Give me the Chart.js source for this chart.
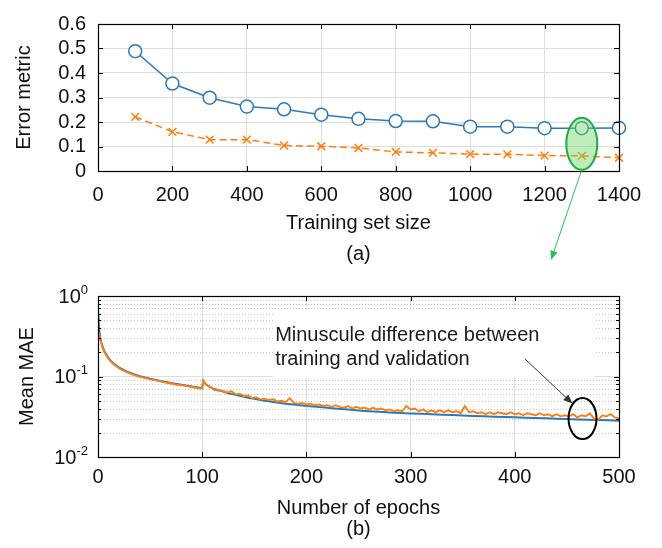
<!DOCTYPE html>
<html>
<head>
<meta charset="utf-8">
<script src="https://cdn.jsdelivr.net/npm/chart.js@4.4.1/dist/chart.umd.min.js"></script>
<style>
  html, body { margin: 0; padding: 0; background: #fff; }
  #wrap { position: relative; width: 662px; height: 548px; }
  canvas { position: absolute; left: 0; }
  #top { top: 0; }
  #bottom { top: 270px; }
</style>
</head>
<body>
<div id="wrap">
  <canvas id="top" width="662" height="270"></canvas>
  <canvas id="bottom" width="662" height="278"></canvas>
</div>
<script>
'use strict';

// ── (a) error metric vs training set size ─────────────────────────────────
const sizes = [100, 200, 300, 400, 500, 600, 700, 800, 900, 1000, 1100, 1200, 1300, 1400];
const errCircle = [0.489, 0.357, 0.299, 0.263, 0.252, 0.230, 0.213, 0.204, 0.203, 0.181, 0.181, 0.175, 0.175, 0.176];
const errCross = [0.221, 0.160, 0.128, 0.128, 0.104, 0.101, 0.094, 0.078, 0.074, 0.069, 0.068, 0.063, 0.062, 0.054];
const sizeTicks = [0, 200, 400, 600, 800, 1000, 1200, 1400];
const errorTicks = [0, 0.1, 0.2, 0.3, 0.4, 0.5, 0.6];
const highlightSize = 1300;

// ── (b) mean MAE per epoch ────────────────────────────────────────────────
const trainEpochs = [0, 1, 2, 3, 4, 5, 6, 8, 10, 12, 15, 20, 25, 30, 35, 40, 45, 50, 60, 70, 80, 90, 99,
  100, 101, 103, 106, 110, 115, 120, 125, 130, 135, 140, 145, 150, 160, 170, 180, 190, 200,
  210, 220, 230, 240, 250, 260, 270, 280, 290, 300, 310, 320, 330, 340, 350, 360, 370, 380,
  390, 400, 410, 420, 430, 440, 450, 460, 470, 480, 490, 500];
const trainMae = [0.72, 0.40, 0.31, 0.27, 0.245, 0.225, 0.208, 0.187, 0.170, 0.158, 0.145, 0.130, 0.120,
  0.112, 0.106, 0.101, 0.097, 0.094, 0.088, 0.083, 0.079, 0.075, 0.072,
  0.073, 0.088, 0.081, 0.076, 0.071, 0.068, 0.065, 0.062, 0.060, 0.058, 0.056, 0.054, 0.053,
  0.050, 0.048, 0.046, 0.0445, 0.043, 0.042, 0.041, 0.0398, 0.0388, 0.0378, 0.0371, 0.0364,
  0.0358, 0.0352, 0.0348, 0.0344, 0.0340, 0.0336, 0.0332, 0.0328, 0.0324, 0.0320, 0.0317,
  0.0314, 0.0311, 0.0308, 0.0305, 0.0302, 0.0299, 0.0296, 0.0293, 0.0290, 0.0288, 0.0286, 0.0283];

const valEpochs = [0, 1, 2, 3, 4, 5, 6, 8, 10, 12, 15, 20, 25, 30, 35, 40, 45, 50, 55, 60, 65, 70, 75, 80,
  85, 90, 95, 99, 100, 101, 102,
  104, 108, 112, 116, 120, 124, 128, 132, 136, 140, 144, 148, 152, 156, 160, 164, 168, 172, 176, 180,
  184, 188, 192, 196, 200, 204, 208, 212, 216, 220, 224, 228, 232, 236, 240, 244, 248, 252, 256, 260,
  264, 268, 272, 276, 280, 284, 288, 292, 296, 300, 304, 308, 312, 316, 320, 324, 328, 332, 336, 340,
  344, 348, 352, 356, 360, 364, 368, 372, 376, 380, 384, 388, 392, 396, 400, 404, 408, 412, 416, 420,
  424, 428, 432, 436, 440, 444, 448, 452, 456, 460, 464, 468, 472, 476, 480, 484, 488, 492, 496, 500];
const valMae = [0.36, 0.33, 0.29, 0.26, 0.237, 0.217, 0.202, 0.182, 0.166, 0.155, 0.142, 0.127, 0.117,
  0.110, 0.104, 0.099, 0.096, 0.092, 0.090, 0.087, 0.084, 0.082, 0.079, 0.078, 0.076, 0.074, 0.072,
  0.071, 0.071, 0.089, 0.084,
  0.079, 0.074, 0.068, 0.067, 0.066, 0.063, 0.066, 0.060, 0.061, 0.057, 0.058, 0.054, 0.055, 0.052,
  0.053, 0.051, 0.052, 0.049, 0.050, 0.048, 0.054, 0.047, 0.046, 0.047, 0.045, 0.046, 0.044, 0.045,
  0.043, 0.044, 0.042, 0.044, 0.042, 0.041, 0.043, 0.040, 0.042, 0.040, 0.041, 0.039, 0.041, 0.039,
  0.040, 0.038, 0.039, 0.037, 0.038, 0.037, 0.043, 0.039, 0.040, 0.037, 0.039, 0.036, 0.038, 0.036,
  0.038, 0.036, 0.038, 0.036, 0.037, 0.035, 0.043, 0.036, 0.037, 0.035, 0.036, 0.034, 0.036, 0.034,
  0.036, 0.035, 0.034, 0.036, 0.034, 0.035, 0.033, 0.035, 0.034, 0.033, 0.035, 0.033, 0.034, 0.032,
  0.034, 0.032, 0.033, 0.032, 0.034, 0.031, 0.033, 0.032, 0.035, 0.030, 0.029, 0.033, 0.032, 0.034,
  0.031, 0.030];
const epochTicks = [0, 100, 200, 300, 400, 500];
const maeDecades = [0.01, 0.1, 1];
const maeTicks = [0.01, 0.02, 0.03, 0.04, 0.05, 0.06, 0.07, 0.08, 0.09,
  0.1, 0.2, 0.3, 0.4, 0.5, 0.6, 0.7, 0.8, 0.9, 1];
const noteLines = ['Minuscule difference between', 'training and validation'];
const noteEpoch = 465;
const noteMae = 0.030;

// ── shared style ──────────────────────────────────────────────────────────
const FONT = "'Liberation Sans', Arial, sans-serif";
const BLUE = '#2a7ab9';
const ORANGE = '#ff7f0e';
const GRID = '#dedede';
const INK = '#111';

function pairs(xs, ys) {
  return xs.map((x, i) => ({ x: x, y: ys[i] }));
}

function isDecade(v) {
  const l = Math.log10(v);
  return Math.abs(l - Math.round(l)) < 1e-6;
}

function arrow(ctx, x1, y1, x2, y2, color, width, head) {
  const a = Math.atan2(y2 - y1, x2 - x1);
  ctx.save();
  ctx.strokeStyle = color;
  ctx.fillStyle = color;
  ctx.lineWidth = width;
  ctx.beginPath();
  ctx.moveTo(x1, y1);
  ctx.lineTo(x2 - Math.cos(a) * head * 0.8, y2 - Math.sin(a) * head * 0.8);
  ctx.stroke();
  ctx.beginPath();
  ctx.moveTo(x2, y2);
  ctx.lineTo(x2 - head * Math.cos(a - 0.38), y2 - head * Math.sin(a - 0.38));
  ctx.lineTo(x2 - head * Math.cos(a + 0.38), y2 - head * Math.sin(a + 0.38));
  ctx.closePath();
  ctx.fill();
  ctx.restore();
}

// box round the plot area with ticks pointing inwards, like MATLAB axes
function drawFrame(chart, minorLen) {
  const { ctx, chartArea: a, scales } = chart;
  ctx.save();
  ctx.strokeStyle = '#000';
  ctx.lineWidth = 1;
  ctx.beginPath();
  scales.x.ticks.forEach(t => {
    const px = Math.round(scales.x.getPixelForValue(t.value)) + 0.5;
    ctx.moveTo(px, a.bottom); ctx.lineTo(px, a.bottom - 5);
    ctx.moveTo(px, a.top); ctx.lineTo(px, a.top + 5);
  });
  scales.y.ticks.forEach(t => {
    const len = (minorLen && !isDecade(t.value)) ? minorLen : 5;
    const py = Math.round(scales.y.getPixelForValue(t.value)) + 0.5;
    ctx.moveTo(a.left, py); ctx.lineTo(a.left + len, py);
    ctx.moveTo(a.right, py); ctx.lineTo(a.right - len, py);
  });
  ctx.stroke();
  ctx.lineWidth = 1.2;
  ctx.strokeRect(Math.round(a.left) + 0.5, Math.round(a.top) + 0.5,
    Math.round(a.right - a.left), Math.round(a.bottom - a.top));
  ctx.restore();
}

const tickFont = { family: FONT, size: 20 };

// ── chart (a) ─────────────────────────────────────────────────────────────
const topDecor = {
  id: 'topDecor',
  afterDatasetsDraw(chart) {
    drawFrame(chart);
    const { ctx, scales } = chart;
    const cx = scales.x.getPixelForValue(highlightSize);
    const cy = scales.y.getPixelForValue(0.111);
    ctx.save();
    ctx.beginPath();
    ctx.ellipse(cx, cy, 15.5, 26, 0, 0, Math.PI * 2);
    ctx.fillStyle = 'rgba(110, 215, 100, 0.45)';
    ctx.fill();
    ctx.strokeStyle = '#1faa48';
    ctx.lineWidth = 2;
    ctx.stroke();
    ctx.restore();
    arrow(ctx, cx, cy + 26, 551, 260, '#2bbf5c', 1, 10);
  }
};

new Chart(document.getElementById('top'), {
  type: 'line',
  data: {
    datasets: [
      {
        data: pairs(sizes, errCircle),
        borderColor: BLUE,
        borderWidth: 1.5,
        pointStyle: 'circle',
        pointRadius: 6.5,
        pointBorderWidth: 1.5,
        pointBackgroundColor: '#fff',
        pointBorderColor: BLUE,
        clip: false,
      },
      {
        data: pairs(sizes, errCross),
        borderColor: ORANGE,
        borderWidth: 1.5,
        borderDash: [7, 4],
        pointStyle: 'crossRot',
        pointRadius: 5.5,
        pointBorderWidth: 1.5,
        pointBorderColor: ORANGE,
        clip: false,
      },
    ],
  },
  options: {
    responsive: false,
    animation: false,
    events: [],
    layout: { padding: { left: 0, right: 43, top: 13, bottom: 0 } },
    plugins: { legend: { display: false }, tooltip: { enabled: false } },
    scales: {
      x: {
        type: 'linear', min: 0, max: 1400,
        afterBuildTicks: s => { s.ticks = sizeTicks.map(v => ({ value: v })); },
        afterFit: s => { s.height = 99; },
        grid: { color: GRID, drawTicks: false },
        border: { display: false },
        ticks: { font: tickFont, color: INK, padding: 12, autoSkip: false, maxRotation: 0,
          callback: v => String(v) },
        title: { display: true, text: ['Training set size', '(a)'], color: INK,
          font: { family: FONT, size: 20, lineHeight: 1.55 }, padding: { top: 0, bottom: 0 } },
      },
      y: {
        min: 0, max: 0.6,
        afterBuildTicks: s => { s.ticks = errorTicks.map(v => ({ value: v })); },
        afterFit: s => { s.width = 98; },
        grid: { color: GRID, drawTicks: false },
        border: { display: false },
        ticks: { font: tickFont, color: INK, padding: 12, autoSkip: false,
          callback: v => (v === 0 ? '0' : v.toFixed(1)) },
        title: { display: true, text: 'Error metric', color: INK,
          font: { family: FONT, size: 20 }, padding: { top: 12, bottom: 0 } },
      },
    },
  },
  plugins: [topDecor],
});

// ── chart (b) ─────────────────────────────────────────────────────────────
const bottomDecor = {
  id: 'bottomDecor',
  beforeDatasetsDraw(chart) {
    const { ctx, chartArea: a, scales } = chart;
    ctx.save();
    // dotted minor grid
    ctx.strokeStyle = '#c4c4c4';
    ctx.lineWidth = 1;
    ctx.setLineDash([1, 2]);
    ctx.beginPath();
    maeTicks.filter(v => !isDecade(v)).forEach(v => {
      const py = Math.round(scales.y.getPixelForValue(v)) + 0.5;
      ctx.moveTo(a.left, py); ctx.lineTo(a.right, py);
    });
    ctx.stroke();
    ctx.setLineDash([]);
    // white backing of the note
    const x0 = scales.x.getPixelForValue(168);
    const x1 = scales.x.getPixelForValue(476);
    const y0 = scales.y.getPixelForValue(0.67);
    const y1 = scales.y.getPixelForValue(0.096);
    ctx.fillStyle = '#fff';
    ctx.fillRect(x0, y0, x1 - x0, y1 - y0);
    ctx.restore();
  },
  afterDatasetsDraw(chart) {
    drawFrame(chart, 3);
    const { ctx, scales } = chart;
    ctx.save();
    // decade labels with superscript exponents
    ctx.fillStyle = INK;
    ctx.textAlign = 'right';
    ctx.textBaseline = 'middle';
    maeDecades.forEach(v => {
      const py = scales.y.getPixelForValue(v);
      const exp = String(Math.round(Math.log10(v)));
      ctx.font = '13px ' + FONT;
      const ew = ctx.measureText(exp).width;
      ctx.fillText(exp, 88, py - 6);
      ctx.font = '20px ' + FONT;
      ctx.fillText('10', 88 - ew, py + 1);
    });
    // note text
    const tx = scales.x.getPixelForValue(170);
    ctx.textAlign = 'left';
    ctx.textBaseline = 'alphabetic';
    ctx.font = '20px ' + FONT;
    ctx.fillStyle = '#1a1a1a';
    noteLines.forEach((line, i) => ctx.fillText(line, tx, 71 + i * 24));
    // ellipse round the tail
    const ex = scales.x.getPixelForValue(noteEpoch);
    const ey = scales.y.getPixelForValue(noteMae);
    ctx.beginPath();
    ctx.ellipse(ex, ey, 14, 20.5, 0, 0, Math.PI * 2);
    ctx.strokeStyle = '#000';
    ctx.lineWidth = 2;
    ctx.stroke();
    ctx.restore();
    arrow(ctx, 525, 89, ex - 10, ey - 15, '#333', 1, 10);
  }
};

new Chart(document.getElementById('bottom'), {
  type: 'line',
  data: {
    datasets: [
      {
        data: pairs(trainEpochs, trainMae),
        borderColor: BLUE,
        borderWidth: 2,
        pointRadius: 0,
        tension: 0,
        order: 2,
      },
      {
        data: pairs(valEpochs, valMae),
        borderColor: ORANGE,
        borderWidth: 1.9,
        pointRadius: 0,
        tension: 0,
        order: 1,
      },
    ],
  },
  options: {
    responsive: false,
    animation: false,
    events: [],
    layout: { padding: { left: 0, right: 43, top: 26, bottom: 0 } },
    plugins: { legend: { display: false }, tooltip: { enabled: false } },
    scales: {
      x: {
        type: 'linear', min: 0, max: 500,
        afterBuildTicks: s => { s.ticks = epochTicks.map(v => ({ value: v })); },
        afterFit: s => { s.height = 91; },
        grid: { color: GRID, drawTicks: false },
        border: { display: false },
        ticks: { font: tickFont, color: INK, padding: 8, autoSkip: false, maxRotation: 0,
          callback: v => String(v) },
        title: { display: true, text: ['Number of epochs', '(b)'], color: INK,
          font: { family: FONT, size: 20, lineHeight: 1.05 }, padding: { top: 0, bottom: 8 } },
      },
      y: {
        type: 'logarithmic', min: 0.01, max: 1,
        afterBuildTicks: s => { s.ticks = maeTicks.map(v => ({ value: v })); },
        afterFit: s => { s.width = 98; },
        grid: { color: c => (c.tick && isDecade(c.tick.value) ? GRID : 'rgba(0,0,0,0)'), drawTicks: false },
        border: { display: false },
        ticks: { display: false },
        title: { display: true, text: 'Mean MAE', color: INK,
          font: { family: FONT, size: 20 }, padding: { top: 15, bottom: 0 } },
      },
    },
  },
  plugins: [bottomDecor],
});
</script>
</body>
</html>
